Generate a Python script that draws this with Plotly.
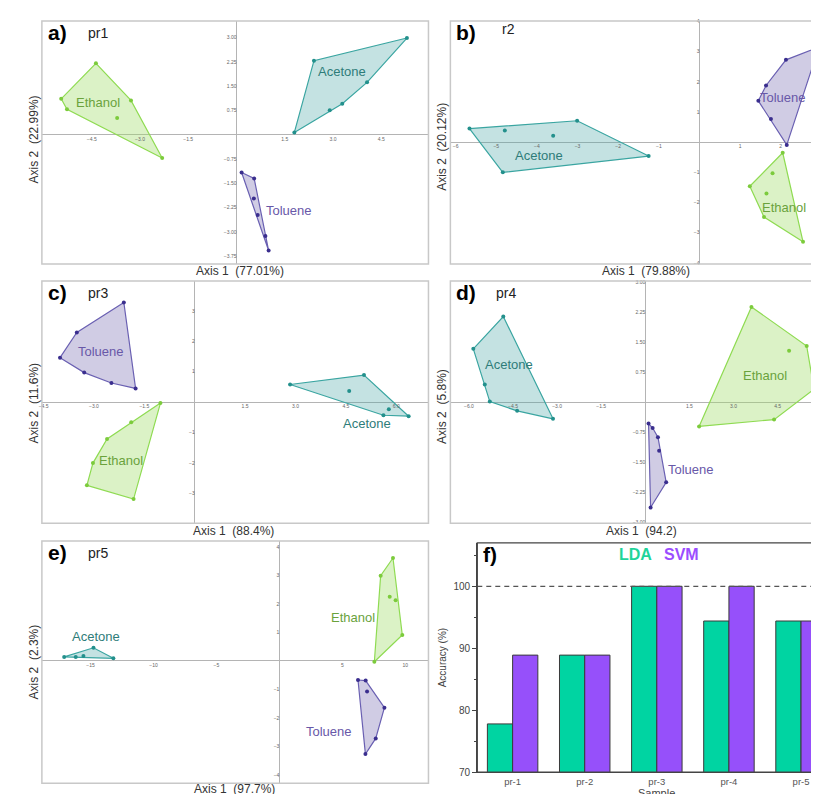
import plotly.graph_objects as go

W, H = 819, 794

# ---------------- data ----------------
# pr1
a_eth_x = [-4.37, -5.45, -5.27, -3.28, -3.71, -2.31]
a_eth_y = [2.21, 1.11, 0.79, 1.06, 0.52, -0.72]
a_ace_x = [2.41, 5.30, 4.06, 3.29, 2.90, 1.80]
a_ace_y = [2.29, 2.99, 1.62, 0.96, 0.76, 0.07]
a_tol_x = [0.16, 0.55, 0.54, 0.66, 0.90, 1.00]
a_tol_y = [-1.17, -1.35, -1.97, -2.48, -3.13, -3.58]
# pr2
b_eth_x = [2.05, 1.80, 1.24, 1.65, 1.59, 2.55]
b_eth_y = [-0.35, -1.03, -1.46, -1.70, -2.48, -3.30]
b_ace_x = [-5.66, -4.79, -3.01, -3.60, -1.25, -4.84]
b_ace_y = [0.45, 0.39, 0.71, 0.21, -0.46, -1.00]
b_tol_x = [2.94, 2.13, 1.64, 1.45, 1.76, 2.15]
b_tol_y = [3.15, 2.73, 1.88, 1.37, 0.77, -0.09]
# pr3
c_eth_x = [-1.02, -1.89, -2.61, -3.03, -3.21, -1.82]
c_eth_y = [-0.03, -0.66, -1.21, -2.00, -2.73, -3.18]
c_ace_x = [2.84, 5.04, 4.60, 5.78, 5.62, 6.37]
c_ace_y = [0.58, 0.89, 0.37, -0.23, -0.43, -0.46]
c_tol_x = [-2.11, -3.51, -4.01, -3.29, -2.48, -1.76]
c_tol_y = [3.27, 2.29, 1.46, 0.97, 0.63, 0.45]
# pr4
d_eth_x = [3.61, 5.49, 4.89, 5.74, 4.38, 1.83]
d_eth_y = [2.39, 1.41, 1.29, 0.33, -0.43, -0.60]
d_ace_x = [-4.83, -5.85, -5.46, -5.29, -4.36, -3.14]
d_ace_y = [2.15, 1.34, 0.45, 0.02, -0.21, -0.41]
d_tol_x = [0.11, 0.25, 0.43, 0.47, 0.71, 0.18]
d_tol_y = [-0.53, -0.64, -0.87, -1.21, -2.00, -2.63]
# pr5
e_eth_x = [9.03, 8.05, 8.77, 9.24, 9.77, 7.55]
e_eth_y = [3.61, 2.99, 2.25, 2.13, 0.91, -0.03]
e_ace_x = [-17.10, -16.18, -15.57, -14.77, -13.19]
e_ace_y = [0.14, 0.14, 0.17, 0.46, 0.09]
e_tol_x = [6.25, 6.86, 6.97, 8.35, 7.66, 6.84]
e_tol_y = [-0.67, -0.69, -1.07, -1.64, -2.72, -3.27]

# classification accuracy
samples = ["pr-1", "pr-2", "pr-3", "pr-4", "pr-5"]
lda_acc = [77.8, 88.9, 100.0, 94.4, 94.4]
svm_acc = [88.9, 88.9, 100.0, 100.0, 94.4]

panel_letters = ["a)", "b)", "c)", "d)", "e)", "f)"]
panel_names = ["pr1", "r2", "pr3", "pr4", "pr5"]
x_titles = ["Axis 1  (77.01%)", "Axis 1  (79.88%)", "Axis 1  (88.4%)", "Axis 1  (94.2)", "Axis 1  (97.7%)"]
y_titles = ["Axis 2  (22.99%)", "Axis 2  (20.12%)", "Axis 2  (11.6%)", "Axis 2  (5.8%)", "Axis 2  (2.3%)"]

a_xticks = [-4.5, -3.0, -1.5, 1.5, 3.0, 4.5]
a_yticks = [3.0, 2.25, 1.5, 0.75, -0.75, -1.5, -2.25, -3.0, -3.75]
b_xticks = [-6, -5, -4, -3, -2, -1, 1, 2, 3]
b_yticks = [4, 3, 2, 1, -1, -2, -3, -4]
c_xticks = [-4.5, -3.0, -1.5, 1.5, 3.0, 4.5, 6.0]
c_yticks = [4, 3, 2, 1, -1, -2, -3, -4]
d_xticks = [-6.0, -4.5, -3.0, -1.5, 1.5, 3.0, 4.5, 6.0]
d_yticks = [3.0, 2.25, 1.5, 0.75, -0.75, -1.5, -2.25, -3.0]
e_xticks = [-15, -10, -5, 5, 10]
e_yticks = [4, 3, 2, 1, -1, -2, -3, -4]

# ---------------- style ----------------
ETH = dict(line="#8FDB52", fill="rgba(160,222,105,0.38)", mark="#7CCB3C", text="#6AA23C")
ACE = dict(line="#3AA5A1", fill="rgba(70,165,165,0.32)", mark="#23908C", text="#2E7C79")
TOL = dict(line="#6A60B2", fill="rgba(120,108,178,0.35)", mark="#3A2E8E", text="#6858A8")

# layout in pixels: (left, right, top, bottom), axis ranges
panels = [
    dict(box=(31, 419, 10, 256), xr=[-6.05, 5.97], yr=[-4.0, 3.52], xt=a_xticks, yt=a_yticks, xf=".1f", yf=".2f",
         groups=[(a_eth_x, a_eth_y, ETH, "Ethanol", -4.3, 1.0),
                 (a_ace_x, a_ace_y, ACE, "Acetone", 3.28, 1.96),
                 (a_tol_x, a_tol_y, TOL, "Toluene", 1.62, -2.35)],
         xt_pos=(230, 263), yt_pos=(23, 130), name_pos=(87, 22)),
    dict(box=(441, 819, 10, 256), xr=[-6.13, 3.14], yr=[-4.04, 4.02], xt=b_xticks, yt=b_yticks, xf="d", yf="d",
         groups=[(b_ace_x, b_ace_y, ACE, "Acetone", -3.95, -0.43),
                 (b_tol_x, b_tol_y, TOL, "Toluene", 2.05, 1.49),
                 (b_eth_x, b_eth_y, ETH, "Ethanol", 2.08, -2.15)],
         xt_pos=(637, 263), yt_pos=(433, 137), name_pos=(499, 18)),
    dict(box=(31, 419, 273, 518), xr=[-4.55, 6.96], yr=[-3.97, 3.98], xt=c_xticks, yt=c_yticks, xf=".1f", yf="d",
         groups=[(c_tol_x, c_tol_y, TOL, "Toluene", -2.8, 1.65),
                 (c_eth_x, c_eth_y, ETH, "Ethanol", -2.2, -1.9),
                 (c_ace_x, c_ace_y, ACE, "Acetone", 5.12, -0.7)],
         xt_pos=(223, 526), yt_pos=(23, 397), name_pos=(87, 285)),
    dict(box=(441, 819, 273, 518), xr=[-6.63, 6.18], yr=[-3.02, 3.04], xt=d_xticks, yt=d_yticks, xf=".1f", yf=".2f",
         groups=[(d_ace_x, d_ace_y, ACE, "Acetone", -4.63, 0.95),
                 (d_eth_x, d_eth_y, ETH, "Ethanol", 4.07, 0.67),
                 (d_tol_x, d_tol_y, TOL, "Toluene", 1.55, -1.69)],
         xt_pos=(633, 526), yt_pos=(433, 400), name_pos=(497, 285)),
    dict(box=(31, 419, 536, 781), xr=[-18.87, 11.85], yr=[-4.29, 4.21], xt=e_xticks, yt=e_yticks, xf="d", yf="d",
         groups=[(e_ace_x, e_ace_y, ACE, "Acetone", -14.54, 0.87),
                 (e_eth_x, e_eth_y, ETH, "Ethanol", 5.86, 1.53),
                 (e_tol_x, e_tol_y, TOL, "Toluene", 3.96, -2.49)],
         xt_pos=(224, 787), yt_pos=(23, 658), name_pos=(87, 548)),
]


def hull(xs, ys):
    pts = sorted(set(zip(xs, ys)))

    def cross(o, a, b):
        return (a[0] - o[0]) * (b[1] - o[1]) - (a[1] - o[1]) * (b[0] - o[0])
    lower = []
    for p in pts:
        while len(lower) >= 2 and cross(lower[-2], lower[-1], p) <= 0:
            lower.pop()
        lower.append(p)
    upper = []
    for p in reversed(pts):
        while len(upper) >= 2 and cross(upper[-2], upper[-1], p) <= 0:
            upper.pop()
        upper.append(p)
    h = lower[:-1] + upper[:-1]
    h.append(h[0])
    return [p[0] for p in h], [p[1] for p in h]


def fx(p):
    return p / W


def fy(p):
    return 1 - p / H


fig = go.Figure()
layout = dict(width=W, height=H, margin=dict(l=0, r=0, t=0, b=0),
              paper_bgcolor="white", plot_bgcolor="white", showlegend=False,
              font=dict(family="Liberation Sans, Arial, sans-serif", color="#333"))
annotations = []
shapes = []
TICKFONT = dict(size=5, color="#666")

for i, p in enumerate(panels):
    n = i + 1
    xa = "xaxis" if n == 1 else f"xaxis{n}"
    ya = "yaxis" if n == 1 else f"yaxis{n}"
    xr_ = "x" if n == 1 else f"x{n}"
    yr_ = "y" if n == 1 else f"y{n}"
    l, r, t, b = p["box"]
    xdom = [fx(l), fx(r)]
    ydom = [fy(b), fy(t)]
    y0pos = ydom[0] + (0 - p["yr"][0]) / (p["yr"][1] - p["yr"][0]) * (ydom[1] - ydom[0])
    x0pos = xdom[0] + (0 - p["xr"][0]) / (p["xr"][1] - p["xr"][0]) * (xdom[1] - xdom[0])
    layout[xa] = dict(domain=xdom, range=p["xr"], anchor="free", position=y0pos,
                      showgrid=False, showline=False, zeroline=True, zerolinecolor="#B4B4B4",
                      zerolinewidth=1.2, tickvals=p["xt"], tickformat=p["xf"], ticks="",
                      tickfont=TICKFONT, fixedrange=True)
    layout[ya] = dict(domain=ydom, range=p["yr"], anchor="free", position=x0pos,
                      showgrid=False, showline=False, zeroline=True, zerolinecolor="#B4B4B4",
                      zerolinewidth=1.2, tickvals=p["yt"], tickformat=p["yf"], ticks="",
                      tickfont=TICKFONT, fixedrange=True)
    for gx, gy, col, label, lx, ly in p["groups"]:
        hx, hy = hull(gx, gy)
        fig.add_trace(go.Scatter(x=hx, y=hy, mode="lines", fill="toself", fillcolor=col["fill"],
                                 line=dict(color=col["line"], width=1.2), xaxis=xr_, yaxis=yr_,
                                 hoverinfo="skip"))
        fig.add_trace(go.Scatter(x=gx, y=gy, mode="markers", marker=dict(color=col["mark"], size=4),
                                 xaxis=xr_, yaxis=yr_))
        annotations.append(dict(x=lx, y=ly, xref=xr_, yref=yr_, text=label, showarrow=False,
                                font=dict(size=13, color=col["text"])))
    # frame
    shapes.append(dict(type="rect", xref=f"{xr_} domain", yref=f"{yr_} domain",
                       x0=0, x1=(1.05 if r >= W else 1), y0=0, y1=1,
                       line=dict(color="#C8C8C8", width=1.5), layer="above"))
    # panel letter and name
    annotations.append(dict(x=fx(l + 4), y=fy(t + 12), xref="paper", yref="paper", text=f"<b>{panel_letters[i]}</b>",
                            showarrow=False, xanchor="left", yanchor="middle",
                            font=dict(size=21, color="black", family="Liberation Sans, Arial")))
    annotations.append(dict(x=fx(p["name_pos"][0]), y=fy(p["name_pos"][1]), xref="paper", yref="paper",
                            text=panel_names[i], showarrow=False, xanchor="center", yanchor="middle",
                            font=dict(size=14, color="#222")))
    annotations.append(dict(x=fx(p["xt_pos"][0]), y=fy(p["xt_pos"][1]), xref="paper", yref="paper",
                            text=x_titles[i], showarrow=False, xanchor="center", yanchor="middle",
                            font=dict(size=12, color="#333")))
    annotations.append(dict(x=fx(p["yt_pos"][0]), y=fy(p["yt_pos"][1]), xref="paper", yref="paper",
                            text=y_titles[i], showarrow=False, xanchor="center", yanchor="middle",
                            textangle=-90, font=dict(size=12, color="#333")))

# ---------------- panel f: bar chart ----------------
LDA_C = "#00D4A2"
SVM_C = "#9650FA"
fig.add_trace(go.Bar(x=samples, y=lda_acc, marker=dict(color=LDA_C, line=dict(color="#3A3A3A", width=1)),
                     xaxis="x6", yaxis="y6", name="LDA"))
fig.add_trace(go.Bar(x=samples, y=svm_acc, marker=dict(color=SVM_C, line=dict(color="#3A3A3A", width=1)),
                     xaxis="x6", yaxis="y6", name="SVM"))
fl, fr, ft, fb = 468, 819, 538, 770
layout["xaxis6"] = dict(domain=[fx(fl), fx(fr)], range=[-0.49, 4.36], anchor="y6", type="category",
                        showgrid=False, showline=True, linecolor="#444", linewidth=1.2,
                        ticks="", tickfont=dict(size=9.5, color="#555"), ticklabelstandoff=0,
                        fixedrange=True)
layout["yaxis6"] = dict(domain=[fy(fb), fy(ft)], range=[70, 107], anchor="x6",
                        showgrid=False, showline=True, linecolor="#444", linewidth=1.2, zeroline=False,
                        tickvals=[70, 80, 90, 100], ticks="outside", ticklen=4, tickcolor="#444",
                        minor=dict(tickvals=[75, 85, 95, 105], ticks="outside", ticklen=2, tickcolor="#444"),
                        tickfont=dict(size=10, color="#444"),
                        title=dict(text="Accuracy (%)", font=dict(size=10, color="#444"), standoff=4),
                        fixedrange=True)
layout["barmode"] = "group"
layout["bargap"] = 0.3
layout["bargroupgap"] = 0
shapes.append(dict(type="line", xref="x6 domain", yref="y6", x0=0, x1=1, y0=100, y1=100,
                   line=dict(color="#555", width=1.2, dash="5px,4px"), layer="above"))
shapes.append(dict(type="rect", xref="x6 domain", yref="y6 domain", x0=0, x1=1.05, y0=0, y1=1,
                   line=dict(color="#444", width=1.3), layer="above"))
annotations.append(dict(x=fx(472), y=fy(550), xref="paper", yref="paper", text="<b>f)</b>", showarrow=False,
                        xanchor="left", yanchor="middle", font=dict(size=21, color="black")))
annotations.append(dict(x=fx(627), y=fy(550), xref="paper", yref="paper", text="<b>LDA</b>", showarrow=False,
                        xanchor="center", yanchor="middle", font=dict(size=16, color="#1FD49A")))
annotations.append(dict(x=fx(673), y=fy(550), xref="paper", yref="paper", text="<b>SVM</b>", showarrow=False,
                        xanchor="center", yanchor="middle", font=dict(size=16, color="#9B4DFF")))
annotations.append(dict(x=fx(648), y=fy(791), xref="paper", yref="paper", text="Sample", showarrow=False,
                        xanchor="center", yanchor="middle", font=dict(size=11, color="#444")))

layout["annotations"] = annotations
layout["shapes"] = shapes
fig.update_layout(**layout)
fig.write_html("out.html")
